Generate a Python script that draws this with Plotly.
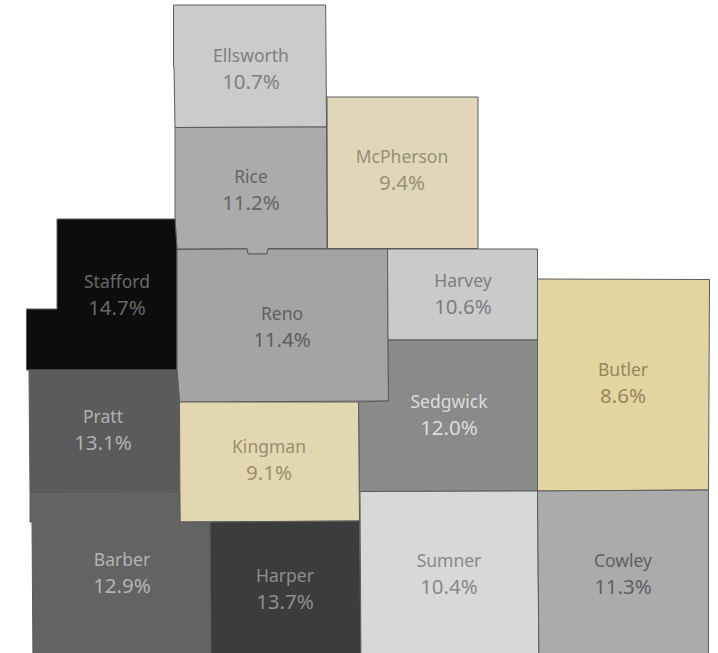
import plotly.graph_objects as go

# County names, percentages, colours
counties = ["Ellsworth", "Rice", "McPherson", "Stafford", "Reno", "Harvey", "Butler",
            "Pratt", "Sedgwick", "Kingman", "Barber", "Harper", "Sumner", "Cowley"]
values = [10.7, 11.2, 9.4, 14.7, 11.4, 10.6, 8.6, 13.1, 12.0, 9.1, 12.9, 13.7, 10.4, 11.3]
fills = ["#cbcbcb", "#ababab", "#e0d6b8", "#0d0d0d", "#a4a4a4", "#cacaca", "#e3d5a0",
         "#5b5b5b", "#8a8a8a", "#e2d7b1", "#636363", "#3c3c3c", "#d8d8d8", "#ababab"]
text_colors = ["#808080", "#666666", "#978f78", "#686868", "#5f5f5f", "#7d7d7d", "#97875c",
               "#b0b0b0", "#dcdcdc", "#9a8f70", "#b4b4b4", "#8e8e8e", "#888888", "#606060"]

# County outlines (map units)
ellsworth = [(173.5, 5), (325.7, 5), (326.5, 127), (175, 127.5), (174, 66.5), (173.5, 66.5)]
rice = [(175, 127.5), (326.5, 127), (327, 248.5), (268, 248.5), (267, 254), (248, 254), (247, 248.5), (177, 249), (175, 219)]
mcpherson = [(327, 97), (478, 97), (478, 248.5), (327.5, 248.5)]
stafford = [(57, 219), (175, 219), (177, 249), (177, 370), (26.5, 370), (26.5, 309), (57, 309)]
reno = [(177, 249.5), (247, 249), (248, 254), (267, 254), (268, 249), (387.5, 249), (388.5, 401), (179.5, 402), (177, 370)]
harvey = [(387.5, 249), (537.5, 249), (537.5, 340), (388, 340)]
butler = [(537.5, 279), (709.5, 279.5), (708.5, 490), (537.5, 491)]
pratt = [(29, 370), (177, 370), (179.5, 402), (179.5, 492), (30, 492.5)]
sedgwick = [(388, 340), (537.5, 340), (537.5, 491), (359.5, 491.5), (358.5, 402), (388.5, 401)]
kingman = [(179.5, 402), (358.5, 402), (359.5, 521), (180, 522)]
barber = [(30, 492.5), (179.5, 492), (180, 522), (210, 522), (211, 665), (33, 665), (32, 522), (30, 522)]
harper = [(210, 522), (359.5, 521), (361, 665), (211, 665)]
sumner = [(360, 491.5), (537.5, 491), (539, 665), (361, 665)]
cowley = [(537.5, 491), (708.5, 490), (708.5, 665), (539, 665)]
outlines = [ellsworth, rice, mcpherson, stafford, reno, harvey, butler,
            pratt, sedgwick, kingman, barber, harper, sumner, cowley]

# Label anchors
label_x = [251, 251, 402, 117, 282, 463, 623, 103, 449, 269, 122, 285, 449, 623]
name_y = [58, 179, 159, 284, 316, 283, 372, 419, 404, 449, 562, 578, 563, 563]
value_y = [84, 205, 185, 310, 342, 309, 398, 445, 430, 475, 588, 604, 589, 589]

FONT = "Noto Sans"
fig = go.Figure()
for name, outline, fill in zip(counties, outlines, fills):
    xs = [p[0] for p in outline] + [outline[0][0]]
    ys = [p[1] for p in outline] + [outline[0][1]]
    fig.add_trace(go.Scatter(x=xs, y=ys, mode="lines", fill="toself", fillcolor=fill,
                             line=dict(color="#5c5c5c", width=1), name=name,
                             hoverinfo="name", showlegend=False))

fig.add_trace(go.Scatter(x=label_x, y=name_y, mode="text", text=counties,
                         textposition="middle center",
                         textfont=dict(family=FONT, size=17.5, color=text_colors),
                         hoverinfo="skip", showlegend=False))
fig.add_trace(go.Scatter(x=label_x, y=value_y, mode="text",
                         text=[f"{v:.1f}%" for v in values],
                         textposition="middle center",
                         textfont=dict(family=FONT, size=20.5, color=text_colors),
                         hoverinfo="skip", showlegend=False))

fig.update_xaxes(range=[0, 718], visible=False, fixedrange=True)
fig.update_yaxes(range=[653, 0], visible=False, fixedrange=True)
fig.update_layout(width=718, height=653, margin=dict(l=0, r=0, t=0, b=0),
                  paper_bgcolor="white", plot_bgcolor="white")
fig.write_html("out.html", config={"displayModeBar": False},
               post_script="document.body.style.margin='0';document.body.style.overflow='hidden';")
